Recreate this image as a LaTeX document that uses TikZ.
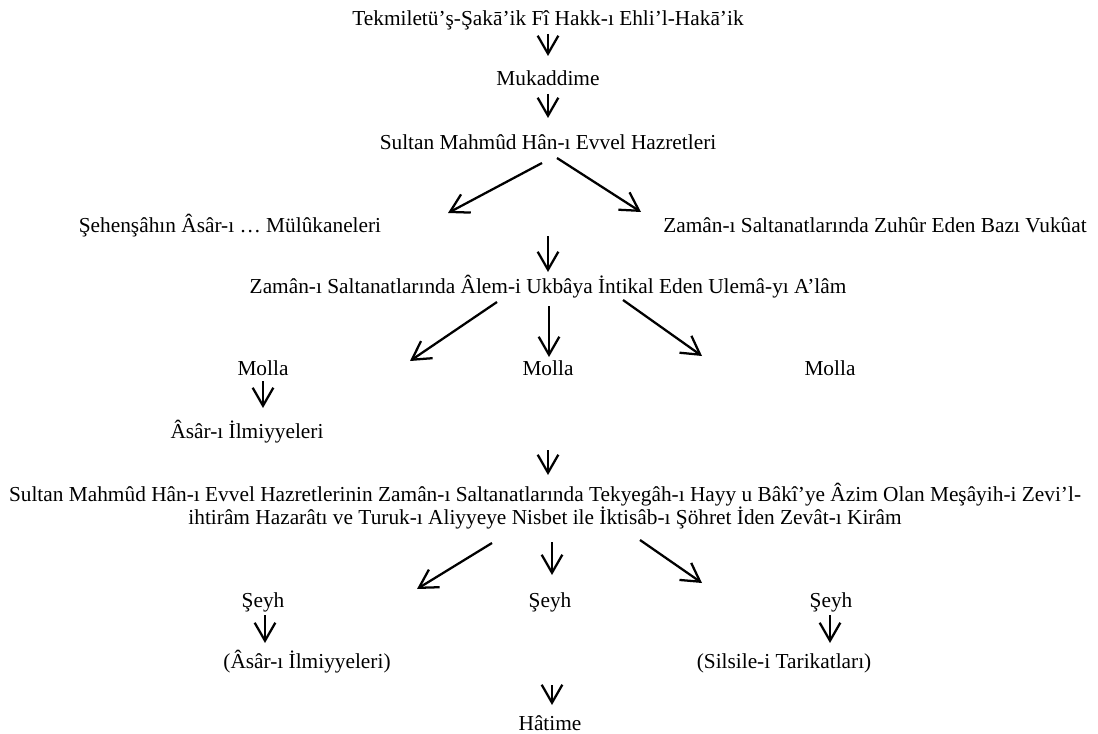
\documentclass[tikz,border=0pt]{standalone}
\usepackage{fontspec}
\setmainfont{Liberation Serif}
\usetikzlibrary{arrows.meta,calc}
\begin{document}
\begin{tikzpicture}[x=0.75pt,y=-0.75pt,
  lbl/.style={anchor=base, inner sep=0pt, font=\fontsize{16pt}{17.25pt}\selectfont},
  arr/.style={line width=1.7pt, -{Straight Barb[length=13.5pt,width=15.5pt,line width=1.7pt]}}]
\useasboundingbox (0,0) rectangle (1098,734);
% texts
\node[lbl] (title) at (548,26) {Tekmiletü’ş-Şakā’ik Fî Hakk-ı Ehli’l-Hakā’ik};
\node[lbl] (muk) at (548,86) {Mukaddime};
\node[lbl] (sultan) at (548,150) {Sultan Mahmûd Hân-ı Evvel Hazretleri};
\node[lbl] (sehen) at (230,233) {Şehenşâhın Âsâr-ı … Mülûkaneleri};
\node[lbl] (vukuat) at (875,233) {Zamân-ı Saltanatlarında Zuhûr Eden Bazı Vukûat};
\node[lbl] (ulema) at (548,293) {Zamân-ı Saltanatlarında Âlem-i Ukbâya İntikal Eden Ulemâ-yı A’lâm};
\node[lbl] (mollaL) at (263,375) {Molla};
\node[lbl] (mollaC) at (548,375) {Molla};
\node[lbl] (mollaR) at (830,375) {Molla};
\node[lbl] (asarL) at (247,438) {Âsâr-ı İlmiyyeleri};
\node[lbl, align=center] (zevat) at (545,524) {Sultan Mahmûd Hân-ı Evvel Hazretlerinin Zamân-ı Saltanatlarında Tekyegâh-ı Hayy u Bâkî’ye Âzim Olan Meşâyih-i Zevi’l-\\ihtirâm Hazarâtı ve Turuk-ı Aliyyeye Nisbet ile İktisâb-ı Şöhret İden Zevât-ı Kirâm};
\node[lbl] (seyhL) at (263,607) {Şeyh};
\node[lbl] (seyhC) at (550,607) {Şeyh};
\node[lbl] (seyhR) at (831,607) {Şeyh};
\node[lbl] (parL) at (307,668) {(Âsâr-ı İlmiyyeleri)};
\node[lbl] (parR) at (784,668) {(Silsile-i Tarikatları)};
\node[lbl] (hatime) at (550,730) {Hâtime};
% free ends
\coordinate (tS1) at (448,213);
\coordinate (tS2) at (641,212);
\coordinate (c2) at (548,236);
\coordinate (tU1) at (410,361);
\coordinate (tU3) at (702,356);
\coordinate (c3) at (548,450);
\coordinate (tZ1) at (417,589);
\coordinate (tZ3) at (702,583);
% connectors
\draw[arr] ($(title.base)+(0,8)$) -- ($(muk.base)+(0,-30)$);
\draw[arr] ($(muk.base)+(0,8)$) -- ($(sultan.base)+(0,-32)$);
\draw[arr] ($(sultan.base)+(-6,13)$) -- (tS1);
\draw[arr] ($(sultan.base)+(9,8)$) -- (tS2);
\draw[arr] (c2) -- ($(ulema.base)+(0,-21)$);
\draw[arr] ($(ulema.base)+(-51,9)$) -- (tU1);
\draw[arr] ($(ulema.base)+(1,13)$) -- ($(mollaC.base)+(1,-18)$);
\draw[arr] ($(ulema.base)+(75,7)$) -- (tU3);
\draw[arr] ($(mollaL.base)+(0,6)$) -- ($(asarL.base)+(16,-30)$);
\draw[arr] (c3) -- ($(zevat.base)+(3,-49)$);
\draw[arr] ($(zevat.base)+(-53,19)$) -- (tZ1);
\draw[arr] ($(zevat.base)+(7,18)$) -- ($(seyhC.base)+(2,-32)$);
\draw[arr] ($(zevat.base)+(95,16)$) -- (tZ3);
\draw[arr] ($(seyhL.base)+(2,8)$) -- ($(parL.base)+(-42,-25)$);
\draw[arr] ($(seyhR.base)+(-1,8)$) -- ($(parR.base)+(46,-25)$);
\draw[arr] ($(seyhC.base)+(2,78)$) -- ($(hatime.base)+(2,-25)$);
\end{tikzpicture}
\end{document}
